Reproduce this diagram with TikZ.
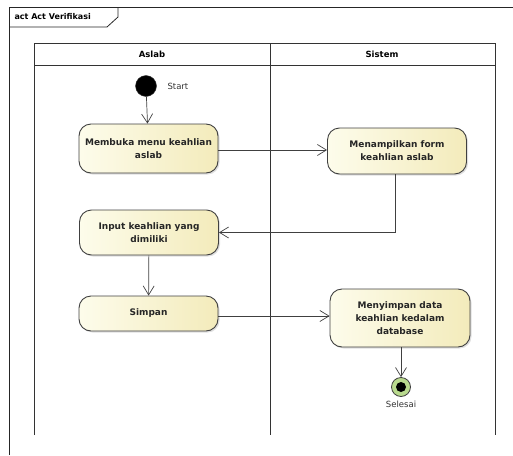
\documentclass[tikz,border=0pt]{standalone}
\usepackage{fontspec}
\setmainfont{DejaVu Sans}
\usetikzlibrary{arrows.meta,shadows}
\definecolor{actl}{HTML}{FDFCEB}
\definecolor{actr}{HTML}{F3EBBB}
\definecolor{edge}{HTML}{404040}
\definecolor{endg}{HTML}{B9DA8E}
\tikzset{
  act/.style={draw=edge, line width=0.9pt, rounded corners=12pt, left color=actl, right color=actr,
    minimum width=139pt, align=center, font=\fontsize{9}{13}\selectfont\bfseries, text=black!85,
    drop shadow={shadow xshift=1.5pt, shadow yshift=-1.5pt, fill=black!25, opacity=0.5}},
  flow/.style={draw=edge, line width=0.7pt, -{Straight Barb[length=9pt,width=11pt,line width=0.7pt]}},
  lane/.style={draw=black!80, line width=0.9pt},
  lbl/.style={font=\fontsize{8.5}{10}\selectfont, text=black!80},
  hdr/.style={font=\fontsize{8.5}{10}\selectfont\bfseries}
}
\begin{document}
\begin{tikzpicture}[x=1pt,y=-1pt]
\useasboundingbox (0,0) rectangle (513,455);
% outer frame
\draw[line width=0.9pt, black!85] (9,455) -- (9,7) -- (513,7);
\draw[line width=0.8pt, black!85] (9,27) -- (107,27) -- (118,17) -- (118,7);
\node[anchor=west, font=\fontsize{8}{10}\selectfont\bfseries] (frametitle) at (11,17) {act Act Verifikasi};
% swimlanes
\draw[lane] (34,435) -- (34,43) -- (495,43) -- (495,435);
\draw[lane] (270,43) -- (270,435);
\draw[lane] (34,65) -- (495,65);
\node[hdr] (laneA) at (152,54) {Aslab};
\node[hdr] (laneB) at (382,54) {Sistem};
% start
\node[circle, fill=black, draw=black!80, minimum size=21pt, inner sep=0pt] (start) at (146,86) {};
\node[lbl, anchor=west] (startlbl) at (164,86) {Start};
% activities
\node[act, minimum height=49pt] (n1) at (148.5,148.5) {Membuka menu keahlian\\aslab};
\node[act, minimum height=46pt] (n2) at (397,151) {Menampilkan form\\keahlian aslab};
\node[act, minimum height=45pt] (n3) at (149,232.5) {Input keahlian yang\\dimiliki};
\node[act, minimum height=35pt] (n4) at (148.5,313.5) {Simpan};
\node[act, minimum height=58pt, minimum width=140pt] (n5) at (400,318) {Menyimpan data\\keahlian kedalam\\database};
% end
\node[circle, fill=endg, draw=edge, line width=0.8pt, minimum size=19pt, inner sep=0pt] (fin) at (401,387) {};
\node[circle, fill=black, minimum size=10pt, inner sep=0pt] (findot) at (fin) {};
\node[lbl, anchor=north] (finlbl) at (401,398) {Selesai};
% flows
\draw[flow] (start) -- (n1);
\draw[flow] (n1.east |- 0,150) -- (n2.west |- 0,150);
\draw[flow] (n2.south -| 395,0) |- (n3.east);
\draw[flow] (n3) -- (n4);
\draw[flow] (n4.east |- 0,316) -- (n5.west |- 0,316);
\draw[flow] (n5.south -| 401,0) -- (fin);
\end{tikzpicture}
\end{document}
